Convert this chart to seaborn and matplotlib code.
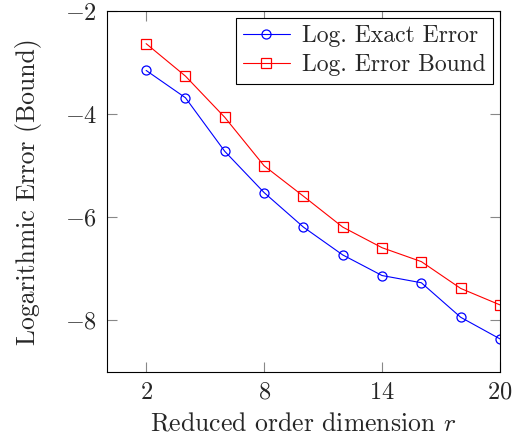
import numpy as np
import pandas as pd
import seaborn as sns
import matplotlib
matplotlib.use('Agg')
import matplotlib.pyplot as plt

# data
r_values = [2, 4, 6, 8, 10, 12, 14, 16, 18, 20]
exact_error = [-3.15, -3.68, -4.72, -5.52, -6.19, -6.73, -7.13, -7.27, -7.94, -8.36]
error_bound = [-2.63, -3.26, -4.06, -5.00, -5.59, -6.19, -6.59, -6.86, -7.38, -7.70]

sns.set_style('ticks')
plt.rcParams['font.family'] = 'serif'
plt.rcParams['font.serif'] = ['cmr10', 'DejaVu Serif']
plt.rcParams['mathtext.fontset'] = 'cm'
plt.rcParams['axes.formatter.use_mathtext'] = True

df = pd.DataFrame({'r': r_values, 'exact': exact_error, 'bound': error_bound})

fig = plt.figure(figsize=(5.16, 4.47), dpi=100)
ax = fig.add_axes([0.207, 0.168, 0.762, 0.807])

sns.lineplot(data=df, x='r', y='exact', ax=ax, color='blue', marker='o',
             markersize=6.5, markerfacecolor='none', markeredgecolor='blue',
             markeredgewidth=0.9, linewidth=0.8, label='Log. Exact Error')
sns.lineplot(data=df, x='r', y='bound', ax=ax, color='red', marker='s',
             markersize=6.5, markerfacecolor='none', markeredgecolor='red',
             markeredgewidth=0.9, linewidth=0.8, label='Log. Error Bound')

ax.set_xlim(0, 20)
ax.set_ylim(-9, -2)
ax.set_xticks([2, 8, 14, 20])
ax.set_yticks([-8, -6, -4, -2])
ax.tick_params(direction='in', length=7, width=0.8, color='#888888',
               top=True, right=True, labelsize=17.5, pad=7)
for s in ax.spines.values():
    s.set_color('black')
    s.set_linewidth(0.8)

ax.set_xlabel('Reduced order dimension $r$', fontsize=18.5, labelpad=6)
ax.set_ylabel('Logarithmic Error (Bound)', fontsize=18.5, labelpad=16)

leg = ax.legend(loc='upper right', fontsize=17, fancybox=False, framealpha=1,
                edgecolor='black', borderpad=0.3, handlelength=2.0,
                handletextpad=0.5, labelspacing=0.3, borderaxespad=0,
                bbox_to_anchor=(0.981, 0.981))
leg.get_frame().set_linewidth(0.8)

fig.savefig('out.png', dpi=100)
